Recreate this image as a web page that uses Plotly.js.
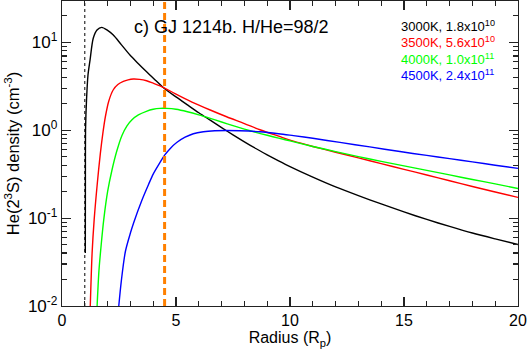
<!DOCTYPE html>
<html><head><meta charset="utf-8">
<script src="https://cdn.plot.ly/plotly-3.0.1.min.js"></script>
<style>html,body{margin:0;padding:0;background:#fff}#chart{width:527px;height:352px}</style>
</head><body><div id="chart"></div>
<script>
// 3000K
const xBlack = [1.022, 1.026, 1.035, 1.075, 1.14, 1.23, 1.37, 1.535, 1.74, 2.0, 2.25, 2.6, 2.98, 3.35, 3.71, 4.1, 4.45, 5.0, 5.5, 6.0, 6.5, 7.0, 7.5, 8.0, 8.5, 9.0, 9.5, 10, 11, 12, 13, 14, 15, 16, 17, 18, 19, 20];
const yBlack = [0.04, 0.27, 1.084, 2.2, 4.25, 6.28, 11.1, 13.8, 14.8, 13.65, 12.1, 9.42, 7.16, 5.71, 4.62, 3.70, 3.04, 2.39, 1.94, 1.58, 1.30, 1.07, 0.885, 0.738, 0.619, 0.525, 0.448, 0.385, 0.292, 0.226, 0.180, 0.145, 0.1175, 0.0966, 0.0804, 0.0676, 0.058, 0.0501];
// 3500K
const xRed = [1.24, 1.32, 1.41, 1.55, 1.68, 1.8, 1.9, 2.05, 2.25, 2.45, 2.69, 2.9, 3.13, 3.4, 3.71, 4.0, 4.3, 4.5, 5.0, 5.7, 6.5, 7.22, 8.0, 8.68, 9.5, 10.15, 11, 12, 13, 14, 15, 16, 17, 18, 19, 20];
const yRed = [0.01, 0.0398, 0.0955, 0.251, 0.537, 0.955, 1.413, 2.138, 2.884, 3.311, 3.589, 3.741, 3.819, 3.784, 3.648, 3.428, 3.199, 3.02, 2.57, 2.089, 1.698, 1.422, 1.189, 1.012, 0.855, 0.75, 0.653, 0.562, 0.484, 0.417, 0.359, 0.309, 0.266, 0.229, 0.198, 0.172];
// 4000K
const xGreen = [1.54, 1.62, 1.72, 1.83, 2.0, 2.19, 2.4, 2.63, 2.85, 3.07, 3.35, 3.7, 4.0, 4.3, 4.59, 5.0, 5.5, 6.0, 6.5, 7.0, 7.5, 8.0, 8.5, 9.0, 9.5, 10, 11, 12, 13, 14, 15, 16, 17, 18, 19, 20];
const yGreen = [0.01, 0.0251, 0.0501, 0.0955, 0.1995, 0.35, 0.575, 0.871, 1.122, 1.318, 1.496, 1.641, 1.73, 1.77, 1.77, 1.73, 1.622, 1.496, 1.365, 1.239, 1.127, 1.030, 0.946, 0.875, 0.813, 0.755, 0.653, 0.571, 0.501, 0.442, 0.393, 0.349, 0.31, 0.275, 0.245, 0.217];
// 4500K
const xBlue = [2.49, 2.6, 2.78, 3.0, 3.14, 3.5, 3.8, 4.0, 4.3, 4.5, 4.74, 5.03, 5.4, 5.76, 6.2, 6.7, 7.22, 7.8, 8.68, 9.5, 10.15, 11, 12.19, 13.5, 14.82, 16, 17, 18, 19, 20];
const yBlue = [0.01, 0.0191, 0.0417, 0.0676, 0.0881, 0.1585, 0.2427, 0.3162, 0.4295, 0.52, 0.6166, 0.7244, 0.8318, 0.912, 0.9594, 0.984, 0.991, 0.984, 0.9594, 0.912, 0.867, 0.809, 0.7261, 0.6457, 0.5715, 0.5164, 0.4742, 0.4355, 0.3999, 0.3673];

const seriesLabels = ['3000K, 1.8x10<sup>10</sup>', '3500K, 5.6x10<sup>10</sup>', '4000K, 1.0x10<sup>11</sup>', '4500K, 2.4x10<sup>11</sup>'];
const seriesColors = ['#000000', '#ff0000', '#00ff00', '#0000ff'];
const titleText = 'c) GJ 1214b. H/He=98/2';
const dottedX = 1.0;
const dashedX = 4.5;
const xRange = [0, 20];
const yRange = [0.01, 29.5];
const xTickVals = [0, 5, 10, 15, 20];
const xMinorVals = [1, 2, 3, 4, 6, 7, 8, 9, 11, 12, 13, 14, 16, 17, 18, 19];
const yTickVals = [0.01, 0.1, 1, 10];
const yTickText = ['10<sup>-2</sup>', '10<sup>-1</sup>', '10<sup>0</sup>', '10<sup>1</sup>'];
const yMinorVals = [0.02, 0.03, 0.04, 0.05, 0.06, 0.07, 0.08, 0.09, 0.2, 0.3, 0.4, 0.5, 0.6, 0.7, 0.8, 0.9, 2, 3, 4, 5, 6, 7, 8, 9, 20];

const xs = [xBlack, xRed, xGreen, xBlue];
const ys = [yBlack, yRed, yGreen, yBlue];
const traces = xs.map((x, i) => ({
  x: x, y: ys[i], type: 'scatter', mode: 'lines',
  line: {color: seriesColors[i], width: 1.4, shape: 'spline', smoothing: 0.8},
  showlegend: false, hoverinfo: 'skip'
}));
traces.push({x: [dashedX, dashedX], y: yRange, type: 'scatter', mode: 'lines',
  line: {color: '#ff8000', width: 3, dash: '7px,4px'}, showlegend: false, hoverinfo: 'skip'});
// carrier for the minor-tick overlay axes (invisible)
traces.push({x: [xRange[1]], y: [yRange[1]], xaxis: 'x2', yaxis: 'y2', type: 'scatter', mode: 'markers',
  marker: {opacity: 0, size: 1}, showlegend: false, hoverinfo: 'skip'});

const fam = '"Liberation Sans", Arial, Helvetica, sans-serif';
const legendY = [26, 42, 59, 75];
const annotations = [{
  xref: 'paper', yref: 'paper', x: (132 - 62) / 456, y: 1 - 26 / 305, xanchor: 'left', yanchor: 'middle',
  text: titleText, showarrow: false, font: {family: fam, size: 18, color: '#000'}
}];
seriesLabels.forEach((t, i) => annotations.push({
  xref: 'paper', yref: 'paper', x: (399 - 62) / 456, y: 1 - (legendY[i] - 1) / 305,
  xanchor: 'left', yanchor: 'middle', text: t, showarrow: false,
  font: {family: fam, size: 13, color: seriesColors[i]}
}));

const logR = [Math.log10(yRange[0]), Math.log10(yRange[1])];
const layout = {
  width: 527, height: 352,
  margin: {l: 62, r: 9, t: 1, b: 46},
  paper_bgcolor: '#fff', plot_bgcolor: '#fff',
  font: {family: fam, size: 15, color: '#000'},
  showlegend: false,
  xaxis: {
    range: xRange, tickmode: 'array', tickvals: xTickVals,
    ticks: 'inside', ticklen: 9, tickwidth: 1.2, tickcolor: '#222',
    showline: true, linecolor: '#222', linewidth: 1.2, mirror: 'allticks',
    showgrid: false, zeroline: false,
    tickfont: {family: fam, size: 16, color: '#000'},
    title: {text: 'Radius (R<sub>p</sub>)', font: {family: fam, size: 16, color: '#000'}, standoff: 3}
  },
  yaxis: {
    type: 'log', range: logR,
    tickmode: 'array', tickvals: yTickVals, ticktext: yTickText,
    ticks: 'inside', ticklen: 9, tickwidth: 1.2, tickcolor: '#222',
    showline: true, linecolor: '#222', linewidth: 1.2, mirror: 'allticks',
    showgrid: false, zeroline: false,
    tickfont: {family: fam, size: 17, color: '#000'},
    title: {text: 'He(2<sup>3</sup>S) density (cm<sup>-3</sup>)', font: {family: fam, size: 16.5, color: '#000'}, standoff: 4}
  },
  xaxis2: {
    overlaying: 'x', anchor: 'y2', range: xRange, tickmode: 'array', tickvals: xMinorVals,
    ticks: 'inside', ticklen: 5, tickwidth: 1.2, tickcolor: '#222', showticklabels: false,
    showline: false, mirror: 'allticks', showgrid: false, zeroline: false
  },
  yaxis2: {
    overlaying: 'y', anchor: 'x2', type: 'log', range: logR, tickmode: 'array', tickvals: yMinorVals,
    ticks: 'inside', ticklen: 5, tickwidth: 1.2, tickcolor: '#222', showticklabels: false,
    showline: false, mirror: 'allticks', showgrid: false, zeroline: false
  },
  shapes: [{
    type: 'line', xref: 'x', yref: 'paper', x0: dottedX, x1: dottedX, y0: 0, y1: 1,
    line: {color: '#000', width: 1, dash: 'dot'}, layer: 'below'
  }],
  annotations: annotations
};
Plotly.newPlot('chart', traces, layout, {staticPlot: true, displayModeBar: false});
</script></body></html>
